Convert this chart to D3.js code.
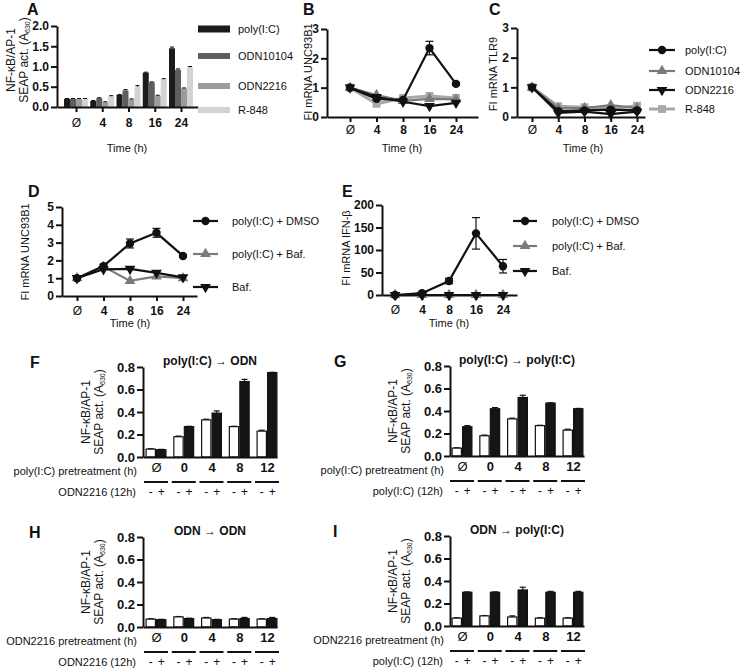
<!DOCTYPE html>
<html><head><meta charset="utf-8">
<script src="https://cdn.jsdelivr.net/npm/d3@7"></script>
<style>body{margin:0;background:#fff}</style>
</head><body>
<svg id="c" width="745" height="670"></svg>
<script>
// ---------------- DATA ----------------
const timeLabels = ["Ø","4","8","16","24"];
// Panel A (SEAP, A630)
const seriesA = ["poly(I:C)","ODN10104","ODN2216","R-848"];
const seapPolyIC   = [0.20,0.15,0.30,0.85,1.45];
const seapODN10104 = [0.20,0.22,0.41,0.61,0.92];
const seapODN2216  = [0.20,0.12,0.19,0.28,0.46];
const seapR848     = [0.20,0.27,0.50,0.69,0.98];
const errPolyIC    = [0.01,0.01,0.01,0.01,0.03];
const errODN10104  = [0.01,0.01,0.02,0.01,0.02];
const errODN2216   = [0.01,0.01,0.01,0.01,0.01];
const errR848      = [0.01,0.01,0.03,0.01,0.02];
const ticksA = [0,0.5,1.0,1.5,2.0];
// Panel B (FI mRNA UNC93B1)
const uncPolyIC    = [1.0,0.62,0.58,2.35,1.13];
const uncPolyICErr = [0,0.04,0.04,0.23,0.05];
const uncODN10104  = [1.0,0.75,0.55,0.62,0.60];
const uncODN2216   = [1.0,0.68,0.52,0.37,0.48];
const uncR848      = [1.0,0.45,0.65,0.72,0.65];
// Panel C (FI mRNA TLR9)
const tlrPolyIC    = [1.0,0.20,0.22,0.25,0.22];
const tlrODN10104  = [1.0,0.30,0.30,0.40,0.30];
const tlrODN2216   = [1.0,0.14,0.18,0.10,0.18];
const tlrR848      = [1.0,0.36,0.33,0.28,0.38];
const ticksBC = [0,1,2,3];
// Panel D (FI mRNA UNC93B1)
const seriesD = ["poly(I:C) + DMSO","poly(I:C) + Baf.","Baf."];
const dDMSO     = [1.0,1.68,2.95,3.55,2.25];
const dDMSOErr  = [0.05,0.10,0.25,0.25,0.08];
const dPolyBaf  = [1.0,1.65,0.85,1.10,1.00];
const dBaf      = [1.0,1.50,1.52,1.30,1.05];
const ticksD = [0,1,2,3,4,5];
// Panel E (FI mRNA IFN-beta)
const eDMSO     = [0,4,31,137,64];
const eDMSOErr  = [0,2,6,35,15];
const ePolyBaf  = [0,0,0,0,0];
const eBaf      = [0,0,0,0,0];
const ticksE = [0,50,100,150,200];
// Panels F-I
const pretreat = ["Ø","0","4","8","12"];
const ticksFI = [0,0.2,0.4,0.6,0.8];
const fMinus = [0.07,0.18,0.33,0.27,0.23], fMinusErr = [0.003,0.006,0.006,0.003,0.008];
const fPlus  = [0.065,0.27,0.39,0.67,0.75], fPlusErr = [0.003,0.003,0.02,0.02,0.003];
const gMinus = [0.07,0.18,0.33,0.27,0.23], gMinusErr = [0.003,0.006,0.006,0.003,0.008];
const gPlus  = [0.26,0.42,0.52,0.47,0.42], gPlusErr = [0.01,0.01,0.02,0.003,0.003];
const hMinus = [0.07,0.09,0.08,0.07,0.07], hMinusErr = [0.003,0.003,0.005,0.003,0.003];
const hPlus  = [0.065,0.075,0.065,0.075,0.075], hPlusErr = [0.003,0.003,0.003,0.01,0.01];
const iMinus = [0.07,0.09,0.08,0.07,0.07], iMinusErr = [0.003,0.003,0.01,0.003,0.003];
const iPlus  = [0.30,0.30,0.32,0.30,0.30], iPlusErr = [0.003,0.003,0.025,0.008,0.008];

// ---------------- DRAWING ----------------
const FONT = "Arial, 'Liberation Sans', Helvetica, sans-serif";
const INK = "#111";
const svg = d3.select("#c");

function pointScale(domain, a0, a1, p0, p1) {
  const n = domain.length, step = (p1 - p0) / (n - 1), W = a1 - a0;
  const pad = (W / step - (n - 1)) / 2;
  const align = (p0 - a0) / (W - (p1 - p0));
  return d3.scalePoint().domain(domain).range([a0, a1]).padding(pad).align(align);
}
function styleAxis(g, fs) {
  g.attr("font-family", FONT).attr("font-size", fs);
  g.select(".domain").attr("stroke", INK).attr("stroke-width", 2);
  g.selectAll(".tick line").attr("stroke", INK).attr("stroke-width", 2);
  g.selectAll(".tick text").attr("fill", INK).attr("font-weight", d => d === "Ø" ? "normal" : "bold");
}
function txt(x, y, s, o = {}) {
  const t = svg.append("text").attr("x", x).attr("y", y).text(s)
    .attr("font-family", FONT).attr("font-size", o.fs || 11).attr("fill", INK)
    .attr("font-weight", o.bold ? "bold" : "normal").attr("text-anchor", o.anchor || "start");
  return t;
}
function letter(x, y, s) { txt(x, y, s, {fs: 16, bold: true}); }
function rotLabel(x, y, s, fs) {
  svg.append("text").attr("transform", `translate(${x},${y}) rotate(-90)`)
    .attr("text-anchor", "middle").attr("font-family", FONT).attr("font-size", fs || 11)
    .attr("fill", INK).text(s);
}
function seapLabel(x1, x2, yc) {
  rotLabel(x1, yc, "NF-κB/AP-1", 12);
  const t = svg.append("text").attr("transform", `translate(${x2},${yc}) rotate(-90)`)
    .attr("text-anchor", "middle").attr("font-family", FONT).attr("font-size", 12).attr("fill", INK);
  t.append("tspan").text("SEAP act. (A");
  t.append("tspan").text("630").attr("font-size", 7).attr("dy", 2);
  t.append("tspan").text(")").attr("dy", -2);
}
function yAxisAt(x, y, ticks, fmt, fs) {
  const g = svg.append("g").attr("transform", `translate(${x},0)`)
    .call(d3.axisLeft(y).tickValues(ticks).tickFormat(fmt).tickSize(6).tickSizeOuter(0).tickPadding(2));
  styleAxis(g, fs);
}
function xAxisAt(y0, x, pad, fs) {
  const g = svg.append("g").attr("transform", `translate(0,${y0})`)
    .call(d3.axisBottom(x).tickSize(5).tickSizeOuter(0).tickPadding(pad));
  styleAxis(g, fs);
}
const sym = {
  circle: d3.symbol().type(d3.symbolCircle).size(55),
  up: d3.symbol().type(d3.symbolTriangle).size(50),
  square: d3.symbol().type(d3.symbolSquare).size(62)
};
function marker(g, kind, cx, cy, color) {
  if (kind === "down") {
    g.append("path").attr("d", sym.up()).attr("transform", `translate(${cx},${cy}) rotate(180)`).attr("fill", color);
  } else {
    g.append("path").attr("d", sym[kind]()).attr("transform", `translate(${cx},${cy})`).attr("fill", color);
  }
}
function drawSeries(x, y, s) {
  const g = svg.append("g");
  if (s.err) {
    s.vals.forEach((v, i) => {
      const e = s.err[i]; if (!e) return;
      const cx = x(timeLabels[i]);
      g.append("line").attr("x1", cx).attr("x2", cx).attr("y1", y(v - e)).attr("y2", y(v + e)).attr("stroke", INK).attr("stroke-width", 1.2);
      [v - e, v + e].forEach(b => g.append("line").attr("x1", cx - 4).attr("x2", cx + 4).attr("y1", y(b)).attr("y2", y(b)).attr("stroke", INK).attr("stroke-width", 1.2));
    });
  }
  const line = d3.line().x((d, i) => x(timeLabels[i])).y(d => y(d));
  g.append("path").datum(s.vals).attr("d", line).attr("fill", "none").attr("stroke", s.color).attr("stroke-width", s.lw || 2.2);
  s.vals.forEach((v, i) => marker(g, s.kind, x(timeLabels[i]), y(v), s.color));
}
function legendLine(x0, x1, xt, yy, s, label) {
  svg.append("line").attr("x1", x0).attr("x2", x1).attr("y1", yy).attr("y2", yy).attr("stroke", s.color).attr("stroke-width", s.lw || 2.2);
  marker(svg, s.kind, (x0 + x1) / 2, yy, s.color);
  txt(xt, yy + 4, label, {fs: 11});
}

// ---- Panel A ----
letter(27, 15, "A");
{
  const x = pointScale(timeLabels, 57, 198, 76, 181);
  const y = d3.scaleLinear().domain([0, 2]).range([107, 26]);
  const inner = d3.scaleBand().domain(seriesA).range([-12, 12]);
  const vals = [seapPolyIC, seapODN10104, seapODN2216, seapR848];
  const errs = [errPolyIC, errODN10104, errODN2216, errR848];
  const cols = ["#1b1b1b", "#5e5e5e", "#9c9c9c", "#d3d3d3"];
  seriesA.forEach((s, k) => {
    vals[k].forEach((v, i) => {
      const bx = x(timeLabels[i]) + inner(s);
      svg.append("rect").attr("x", bx).attr("y", y(v)).attr("width", inner.bandwidth()).attr("height", y(0) - y(v)).attr("fill", cols[k]);
      const cx = bx + inner.bandwidth() / 2;
      svg.append("line").attr("x1", cx).attr("x2", cx).attr("y1", y(v)).attr("y2", y(v + errs[k][i])).attr("stroke", INK).attr("stroke-width", 1);
      svg.append("line").attr("x1", cx - 2).attr("x2", cx + 2).attr("y1", y(v + errs[k][i])).attr("y2", y(v + errs[k][i])).attr("stroke", INK).attr("stroke-width", 1);
    });
  });
  yAxisAt(57, y, ticksA, d3.format(".1f"), 12);
  xAxisAt(107, x, 6, 12);
  seapLabel(15, 28, 60);
  txt(127, 152, "Time (h)", {anchor: "middle"});
  const ly = [29, 56, 86, 110], lh = [7, 6, 6, 6];
  seriesA.forEach((s, k) => {
    svg.append("rect").attr("x", 198).attr("y", ly[k] - lh[k] / 2).attr("width", 32).attr("height", lh[k]).attr("fill", cols[k]);
    txt(238, ly[k] + 4, s, {fs: 11});
  });
}

const stylePoly = {color: INK, kind: "circle"};
const styleO10104 = {color: "#7a7a7a", kind: "up"};
const styleO2216 = {color: INK, kind: "down"};
const styleR848 = {color: "#a9a9a9", kind: "square", lw: 3};

// ---- Panel B ----
letter(303, 15, "B");
{
  const x = pointScale(timeLabels, 327, 478, 350, 456);
  const y = d3.scaleLinear().domain([0, 3]).range([117, 29]);
  xAxisAt(117, x, 3, 12);
  yAxisAt(327, y, ticksBC, d3.format("d"), 12);
  drawSeries(x, y, {...styleR848, vals: uncR848});
  drawSeries(x, y, {...styleO10104, vals: uncODN10104});
  drawSeries(x, y, {...styleO2216, vals: uncODN2216});
  drawSeries(x, y, {...stylePoly, vals: uncPolyIC, err: uncPolyICErr});
  rotLabel(312, 72, "FI mRNA UNC93B1", 11);
  txt(402, 152, "Time (h)", {anchor: "middle"});
}
// ---- Panel C ----
letter(489, 15, "C");
{
  const x = pointScale(timeLabels, 517, 645, 532, 637);
  const y = d3.scaleLinear().domain([0, 3]).range([117, 28]);
  xAxisAt(117, x, 3, 12);
  yAxisAt(517, y, ticksBC, d3.format("d"), 12);
  drawSeries(x, y, {...styleR848, vals: tlrR848});
  drawSeries(x, y, {...styleO10104, vals: tlrODN10104});
  drawSeries(x, y, {...styleO2216, vals: tlrODN2216});
  drawSeries(x, y, {...stylePoly, vals: tlrPolyIC});
  rotLabel(497, 74, "FI mRNA TLR9", 11);
  txt(583, 152, "Time (h)", {anchor: "middle"});
  const rows = [50, 71, 90, 109];
  [stylePoly, styleO10104, styleO2216, styleR848].forEach((s, k) => legendLine(649, 675, 685, rows[k], s, seriesA[k]));
}

const styleDMSO = {color: INK, kind: "circle"};
const stylePolyBaf = {color: "#7a7a7a", kind: "up"};
const styleBaf = {color: INK, kind: "down"};
// ---- Panel D ----
letter(28, 197, "D");
{
  const x = pointScale(timeLabels, 62, 197, 77, 183);
  const y = d3.scaleLinear().domain([0, 5]).range([296, 207]);
  xAxisAt(296, x, 5, 12);
  yAxisAt(62, y, ticksD, d3.format("d"), 12);
  drawSeries(x, y, {...stylePolyBaf, vals: dPolyBaf});
  drawSeries(x, y, {...styleBaf, vals: dBaf});
  drawSeries(x, y, {...styleDMSO, vals: dDMSO, err: dDMSOErr});
  rotLabel(29, 252, "FI mRNA UNC93B1", 11);
  txt(130, 327, "Time (h)", {anchor: "middle"});
  const rows = [221, 254, 287];
  [styleDMSO, stylePolyBaf, styleBaf].forEach((s, k) => legendLine(193, 218, 232, rows[k], s, seriesD[k]));
}
// ---- Panel E ----
letter(342, 197, "E");
{
  const x = pointScale(timeLabels, 382, 517, 395, 503);
  const y = d3.scaleLinear().domain([0, 200]).range([295, 205]);
  xAxisAt(295, x, 5, 12);
  yAxisAt(382, y, ticksE, d3.format("d"), 12);
  drawSeries(x, y, {...stylePolyBaf, vals: ePolyBaf});
  drawSeries(x, y, {...styleBaf, vals: eBaf});
  drawSeries(x, y, {...styleDMSO, vals: eDMSO, err: eDMSOErr});
  rotLabel(350, 248, "FI mRNA IFN-β", 11);
  txt(449, 327, "Time (h)", {anchor: "middle"});
  const rows = [221, 246, 271];
  [styleDMSO, stylePolyBaf, styleBaf].forEach((s, k) => legendLine(513, 537, 552, rows[k], s, seriesD[k]));
}

// ---- Panels F-I ----
function barPanel(o) {
  const x = pointScale(pretreat, o.ax, o.ax + 134, o.c0, o.c0 + 111);
  const y = d3.scaleLinear().domain([0, 0.8]).range([o.y0, o.y0 - 90]);
  const inner = d3.scaleBand().domain(["-", "+"]).range([-10.5, 10.5]);
  const sets = [[o.minus, o.minusErr, "#fff"], [o.plus, o.plusErr, "#151515"]];
  ["-", "+"].forEach((k, j) => {
    const [vals, errs, fill] = sets[j];
    vals.forEach((v, i) => {
      const bx = x(pretreat[i]) + inner(k);
      const cx = bx + inner.bandwidth() / 2;
      svg.append("line").attr("x1", cx).attr("x2", cx).attr("y1", y(v)).attr("y2", y(v + errs[i])).attr("stroke", INK).attr("stroke-width", 1.2);
      svg.append("line").attr("x1", cx - 3).attr("x2", cx + 3).attr("y1", y(v + errs[i])).attr("y2", y(v + errs[i])).attr("stroke", INK).attr("stroke-width", 1.2);
      svg.append("rect").attr("x", bx + 0.6).attr("y", y(v)).attr("width", inner.bandwidth() - 1.2).attr("height", y(0) - y(v))
        .attr("fill", fill).attr("stroke", INK).attr("stroke-width", 1.2);
    });
  });
  yAxisAt(o.ax, y, ticksFI, d3.format(".1f"), 13);
  const g = svg.append("g").attr("transform", `translate(0,${o.y0})`)
    .call(d3.axisBottom(x).tickSize(0).tickSizeOuter(0).tickPadding(6));
  styleAxis(g, 13);
  seapLabel(o.ax - 53, o.ax - 40, o.y0 - 45);
  letter(o.lx, o.y0 - 89, o.letter);
  txt(o.ax + 67, o.y0 - 92, o.title, {fs: 12, bold: true, anchor: "middle"});
  txt(o.ax - 6, o.y0 + 18, o.rowLabel, {fs: 11, anchor: "end"});
  txt(o.ax - 7, o.y0 + 39, o.treatLabel, {fs: 11, anchor: "end"});
  pretreat.forEach(p => {
    const c = x(p);
    svg.append("line").attr("x1", c - 12).attr("x2", c + 12).attr("y1", o.y0 + 25).attr("y2", o.y0 + 25).attr("stroke", INK).attr("stroke-width", 2);
    ["-", "+"].forEach(k => txt(c + inner(k) + inner.bandwidth() / 2, o.y0 + 39, k, {fs: 12, anchor: "middle"}));
  });
}
barPanel({ax: 143, c0: 156, y0: 457, lx: 30, letter: "F", title: "poly(I:C) → ODN",
  rowLabel: "poly(I:C) pretreatment (h)", treatLabel: "ODN2216 (12h)",
  minus: fMinus, minusErr: fMinusErr, plus: fPlus, plusErr: fPlusErr});
barPanel({ax: 450, c0: 462, y0: 456, lx: 334, letter: "G", title: "poly(I:C) → poly(I:C)",
  rowLabel: "poly(I:C) pretreatment (h)", treatLabel: "poly(I:C) (12h)",
  minus: gMinus, minusErr: gMinusErr, plus: gPlus, plusErr: gPlusErr});
barPanel({ax: 143, c0: 156, y0: 627, lx: 29, letter: "H", title: "ODN → ODN",
  rowLabel: "ODN2216 pretreatment (h)", treatLabel: "ODN2216 (12h)",
  minus: hMinus, minusErr: hMinusErr, plus: hPlus, plusErr: hPlusErr});
barPanel({ax: 450, c0: 462, y0: 626, lx: 333, letter: "I", title: "ODN → poly(I:C)",
  rowLabel: "ODN2216 pretreatment (h)", treatLabel: "poly(I:C) (12h)",
  minus: iMinus, minusErr: iMinusErr, plus: iPlus, plusErr: iPlusErr});
</script>
</body></html>
